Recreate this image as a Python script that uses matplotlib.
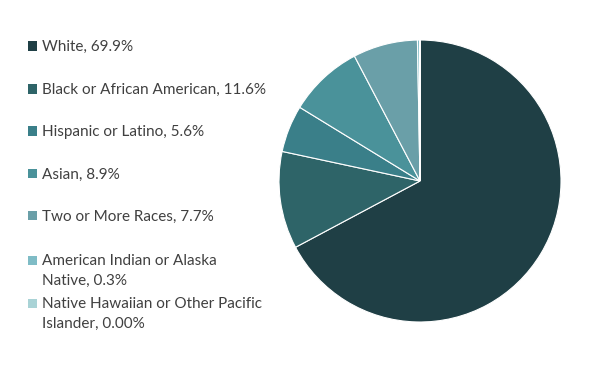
import matplotlib.pyplot as plt
from matplotlib.patches import Rectangle

# Dados
categorias = ["White", "Black or African American", "Hispanic or Latino", "Asian",
              "Two or More Races", "American Indian or Alaska Native",
              "Native Hawaiian or Other Pacific Islander"]
valores = [69.9, 11.6, 5.6, 8.9, 7.7, 0.3, 0.001]
rotulos = ["White, 69.9%", "Black or African American, 11.6%", "Hispanic or Latino, 5.6%",
           "Asian, 8.9%", "Two or More Races, 7.7%", "American Indian or Alaska\nNative, 0.3%",
           "Native Hawaiian or Other Pacific\nIslander, 0.00%"]
cores = ["#1f3f45", "#2e6468", "#3a7f89", "#4a929a", "#6a9fa8", "#7fbcc6", "#a9d3d6"]

plt.rcParams['font.family'] = ['Lato', 'DejaVu Sans']

W, H = 591, 366
fig = plt.figure(figsize=(W / 100, H / 100), dpi=100)

# Pizza
cx, cy, r = 420, 181, 141
ax = fig.add_axes([(cx - r) / W, (H - cy - r) / H, 2 * r / W, 2 * r / H])
ax.pie(valores, colors=cores, startangle=90, counterclock=False,
       wedgeprops={"edgecolor": "white", "linewidth": 0.8})
ax.set_xlim(-1, 1)
ax.set_ylim(-1, 1)
ax.set_aspect("equal")

# Legenda manual (posição da primeira linha de cada item, em px)
ys = [46, 89, 131, 174, 216, 260, 303]
for y, rot, cor in zip(ys, rotulos, cores):
    fig.patches.append(Rectangle((28 / W, 1 - (y + 4.5) / H), 9 / W, 9 / H,
                                 transform=fig.transFigure, facecolor=cor,
                                 edgecolor="none"))
    fig.text(42 / W, 1 - (y - 6) / H, rot, fontsize=11, color="#404040",
             va="top", ha="left", linespacing=1.5)

fig.savefig("out.png", dpi=100)
